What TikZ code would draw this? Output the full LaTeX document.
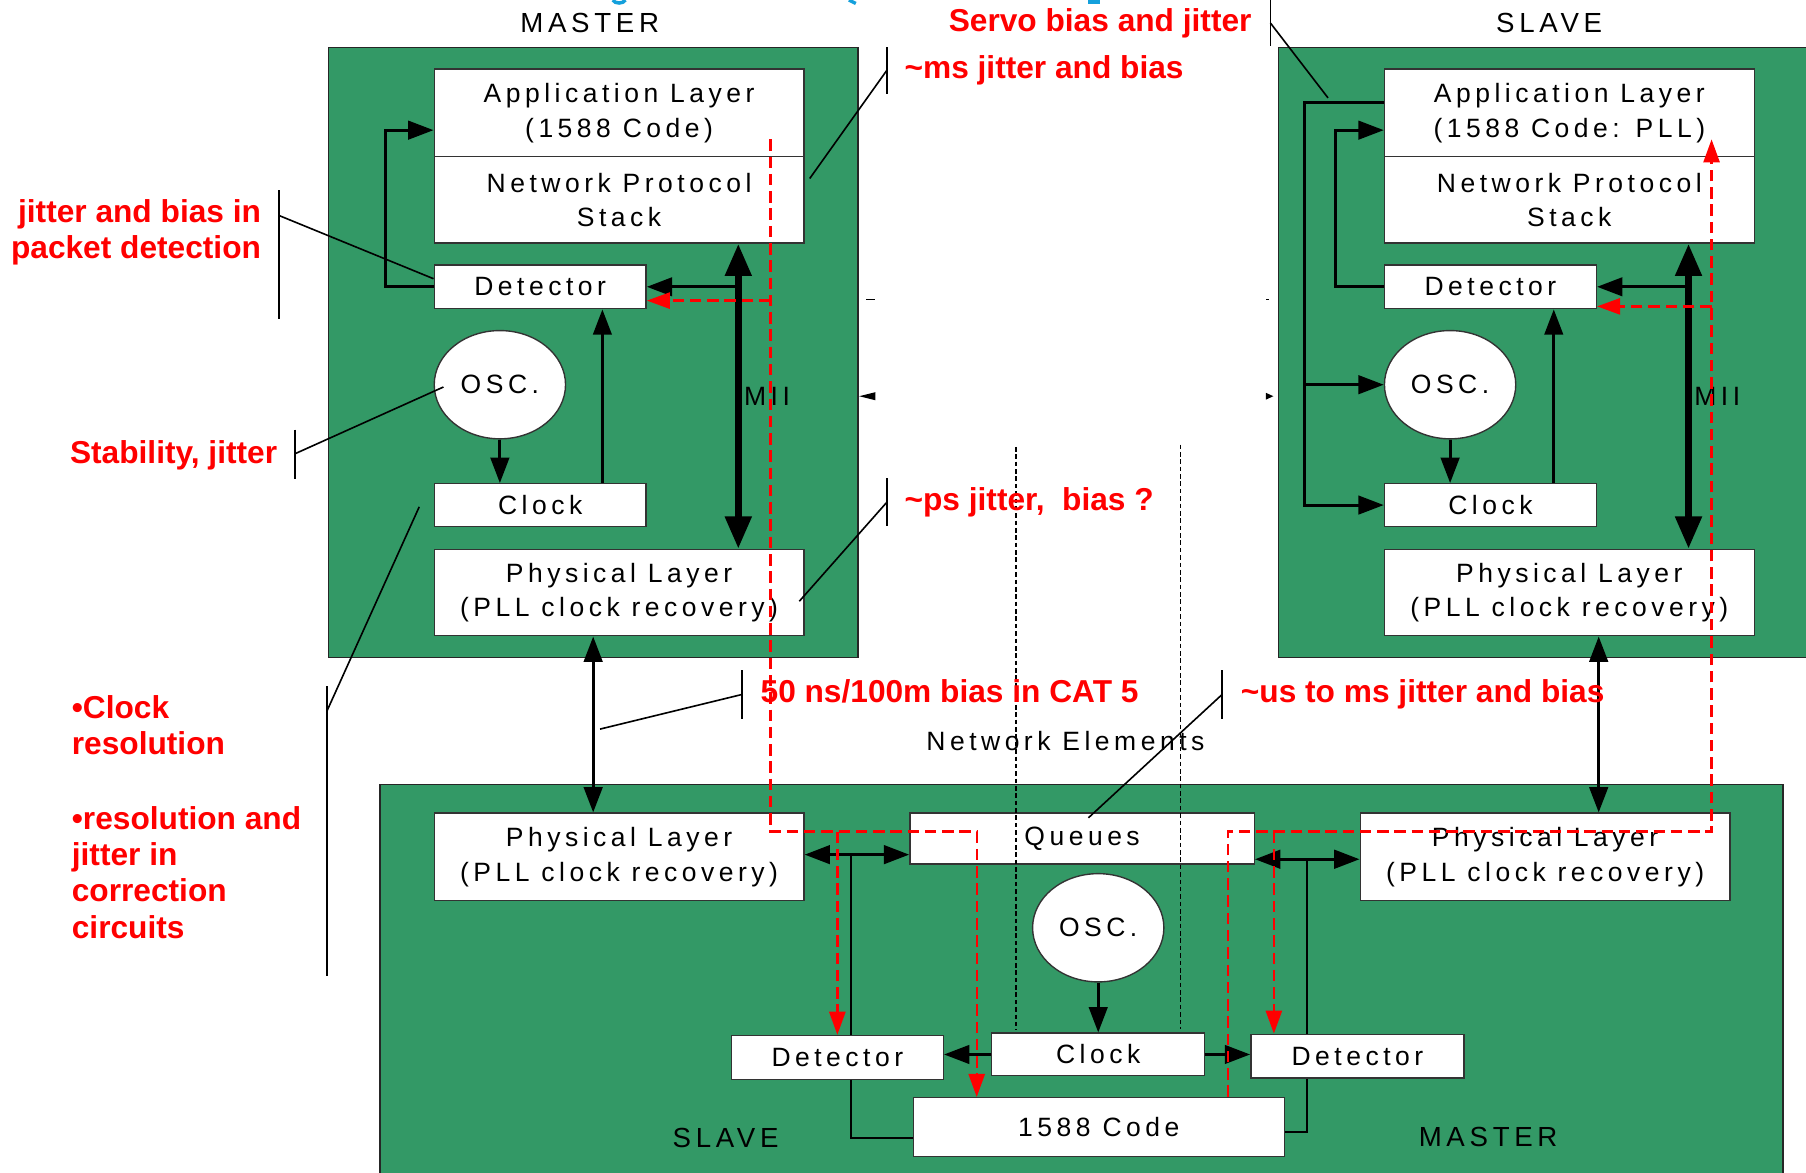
\documentclass[tikz,border=0pt]{standalone}
\usepackage{fontspec}
\setmainfont{Liberation Sans}
\newfontfamily\lblfont[LetterSpace=17]{Liberation Sans}
\usetikzlibrary{arrows.meta,shapes.geometric,fit}
\definecolor{pcb}{RGB}{51,153,102}
\definecolor{notered}{RGB}{255,0,0}
\definecolor{titleblue}{RGB}{20,160,220}
\begin{document}
\begin{tikzpicture}[x=0.5pt,y=-0.5pt,
 board/.style={draw=black!85,line width=0.6pt,fill=pcb,inner sep=0pt},
 blk/.style={draw=black!80,line width=0.6pt,fill=white,inner sep=0pt,align=center,font=\lblfont\fontsize{11.5}{15}\selectfont},
 widebox/.style={blk,minimum width=160.5pt,minimum height=38pt},
 halfbox/.style={blk,minimum width=160.5pt,minimum height=37.5pt},
 smallbox/.style={blk,minimum width=92pt,minimum height=19pt},
 osc/.style={draw=black!80,line width=0.6pt,fill=white,ellipse,inner sep=0pt,minimum width=57pt,minimum height=47pt,font=\lblfont\fontsize{11.5}{15}\selectfont},
 lbl/.style={inner sep=0pt,font=\lblfont\fontsize{11.5}{15}\selectfont},
 ttl/.style={inner sep=0pt,font=\lblfont\fontsize{12}{15}\selectfont},
 note/.style={inner sep=0pt,text=notered,align=left,font=\bfseries\fontsize{13.75}{15.75}\selectfont},
 arr/.style={line width=1.3pt,-{Triangle[length=11pt,width=8pt]}},
 dblarr/.style={line width=1.4pt,{Triangle[length=11pt,width=8pt]}-{Triangle[length=11pt,width=8pt]}},
 mii/.style={line width=3pt,{Triangle[length=14pt,width=11pt]}-{Triangle[length=14pt,width=11pt]}},
 wire/.style={line width=1pt},
 callout/.style={line width=0.7pt},
 rdash/.style={draw=notered,line width=1pt,dash pattern=on 5pt off 2.5pt},
 rarr/.style={rdash,-{Triangle[length=10pt,width=7pt]}},
 netline/.style={line width=0.6pt,dash pattern=on 2pt off 1.2pt},
]
\useasboundingbox (0,0) rectangle (1568,1017.6);
\fill[white] (0,0) rectangle (1568,1017.6);

% title fragments at the top edge
\draw[titleblue,line width=1.5pt] (532,0) .. controls (534,3.5) and (541,3.5) .. (543,0);
\draw[titleblue,line width=1.5pt] (737,0) -- (743,3);
\draw[titleblue,line width=1.8pt] (945,2) -- (955,2);

% boards
\node[board,fit={(285,41)(745,571)}] (mb) {};
\node[board,fit={(1110,41)(1580,571)}] (sb) {};
\node[board,fit={(330,681)(1548,1030)}] (bb) {};

% titles
\node[ttl] (tM) at (512,20) {MASTER};
\node[ttl] (tS) at (1345,20) {SLAVE};
\node[lbl] (tNE) at (925,643) {Network Elements};
\node[ttl] (tbS) at (630,988) {SLAVE};
\node[ttl] (tbM) at (1292,987) {MASTER};

% master stack
\node[widebox] (appM) at (537.5,98) {Application Layer\\(1588 Code)};
\node[halfbox] (npsM) at (537.5,173.5) {Network Protocol\\Stack};
\node[smallbox] (detM) at (469,249) {Detector};
\node[osc] (oscM) at (434,334) {OSC.};
\node[smallbox,minimum height=18.5pt] (clkM) at (469,438.5) {Clock};
\node[halfbox] (phyM) at (537.5,514.5) {Physical Layer\\(PLL clock recovery)};
\node[lbl] (miiM) at (666,344) {MII};

% slave stack
\node[widebox] (appS) at (1362.5,98) {Application Layer\\(1588 Code: PLL)};
\node[halfbox] (npsS) at (1362.5,173.5) {Network Protocol\\Stack};
\node[smallbox] (detS) at (1294,249) {Detector};
\node[osc] (oscS) at (1259,334) {OSC.};
\node[smallbox,minimum height=18.5pt] (clkS) at (1294,438.5) {Clock};
\node[halfbox] (phyS) at (1362.5,514.5) {Physical Layer\\(PLL clock recovery)};
\node[lbl] (miiS) at (1491,344) {MII};

% bottom (network element)
\node[widebox] (phyB1) at (537.5,744) {Physical Layer\\(PLL clock recovery)};
\node[blk,minimum width=149.5pt,minimum height=22pt] (que) at (939.5,728) {Queues};
\node[osc] (oscB) at (953.5,805.5) {OSC.};
\node[blk,minimum width=92.5pt,minimum height=18.5pt] (clkB) at (953.5,915.5) {Clock};
\node[smallbox] (detB1) at (727,918) {Detector};
\node[smallbox,minimum width=92.5pt] (detB2) at (1178.5,917) {Detector};
\node[blk,minimum width=161pt,minimum height=25.5pt] (code) at (954,978.5) {1588 Code};
\node[widebox] (phyB2) at (1341.5,744) {Physical Layer\\(PLL clock recovery)};

% network element boundaries
\draw[netline] (882,388) -- (882,894);
\draw[netline] (1025,386) -- (1025,893);

% master connectors
\draw[arr] (detM.west) -- ++(-42,0) |- ([yshift=-7.5pt]appM.west);
\draw[arr] (oscM.south) -- (oscM.south |- clkM.north);
\draw[arr] ([xshift=27pt]clkM.north) -- ([xshift=27pt]detM.south);
\coordinate (mbus) at ([xshift=51.75pt]npsM.south);
\draw[mii] (mbus) -- (mbus |- phyM.north);
\draw[arr] (mbus |- detM.east) -- (detM.east);

% slave connectors
\draw[arr] ([yshift=4.5pt]appS.west) -- ++(-69,0) coordinate (sbus) |- (clkS.west);
\draw[arr] (sbus |- oscS.west) -- (oscS.west);
\draw[arr] (detS.west) -- ++(-42,0) |- ([yshift=-7.5pt]appS.west);
\draw[arr] (oscS.south) -- (oscS.south |- clkS.north);
\draw[arr] ([xshift=27.5pt]clkS.north) -- ([xshift=27.5pt]detS.south);
\coordinate (smii) at ([xshift=51.75pt]npsS.south);
\draw[mii] (smii) -- (smii |- phyS.north);
\draw[arr] (smii |- detS.east) -- (detS.east);

% links between stacks and network element
\draw[dblarr] ([xshift=-11.25pt]phyM.south) -- ([xshift=-11.25pt]phyB1.north);
\coordinate (sdrop) at ([xshift=12.75pt]phyS.south);
\draw[dblarr] (sdrop) -- (sdrop |- phyB2.north);

% network element internals
\coordinate (qL) at (739,742);
\draw[dblarr] (qL -| phyB1.east) -- (qL -| que.west);
\draw[wire] (qL) -- (qL |- detB1.north);
\draw[wire] (qL |- detB1.south) |- ([yshift=-4.75pt]code.west);
\coordinate (qR) at (1135,746);
\draw[dblarr] (qR -| que.east) -- (qR -| phyB2.west);
\draw[wire] (qR) -- (qR |- detB2.north);
\draw[wire] (qR |- detB2.south) |- ([yshift=-2.25pt]code.east);
\draw[arr] (oscB.south) -- (oscB.south |- clkB.north);
\draw[arr] (clkB.west) -- (clkB.west -| detB1.east);
\draw[arr] (clkB.east) -- (clkB.east -| detB2.west);

% stray marks
\draw[line width=0.5pt] (752,260) -- (760,260);
\fill (746,344) -- (760,340.5) -- (760,347.5) -- cycle;
\draw[line width=0.6pt] (1099.5,260) -- (1101.5,260);
\fill (1105.5,344) -- (1099,341) -- (1099,347) -- cycle;

% red timing paths
\coordinate (rMtop) at (669,121);
\coordinate (rL) at (669,722);
\coordinate (rMdet) at (669,261);
\coordinate (rB1) at (727,722);
\draw[rarr] (rMtop) -- (rL) -| ([xshift=-53pt]code.north);
\draw[rarr] (rMdet) -- (rMdet -| detM.east);
\draw[rarr] (rB1) -- (rB1 |- detB1.north);
\coordinate (rBr) at (1066,722);
\coordinate (rR) at (1486,722);
\coordinate (rStop) at (1486,121);
\coordinate (rSdet) at (1486,266);
\coordinate (rB2) at (1106,722);
\draw[rarr] ([xshift=56pt]code.north) -- (rBr) -- (rR) -- (rStop);
\draw[rarr] (rSdet) -- (rSdet -| detS.east);
\draw[rarr] (rB2) -- (rB2 |- detB2.north);

% annotations
\node[note,anchor=east] (nServo) at (1087,20) {Servo bias and jitter};
\draw[callout] (1103,0) -- (1103,40);
\draw[callout] (1103,20) -- (1153,85);

\node[note,anchor=west] (nMs) at (785,61) {\char`\~ms jitter and bias};
\draw[callout] (770,41) -- (770,82);
\draw[callout] (770,61) -- (703,155);

\node[note,anchor=east,align=right] (nPkt) at (227,202) {jitter and bias in\\packet detection};
\draw[callout] (242,165) -- (242,277);
\draw[callout] (242,187) -- (detM.west |- 0,242);

\node[note,anchor=east] (nStab) at (241,395) {Stability, jitter};
\draw[callout] (256,373) -- (256,416);
\draw[callout] (256,394) -- (385,336);

\node[note,anchor=west] (nPs) at (785,436) {\char`\~ps jitter, \ bias ?};
\draw[callout] (770,415) -- (770,457);
\draw[callout] (770,436) -- (694,522);

\node[note,anchor=west] (nCat) at (660,600) {50 ns/100m bias in CAT 5};
\draw[callout] (644,582) -- (644,624);
\draw[callout] (644,603) -- (521,633);

\node[note,anchor=west] (nUs) at (1077,603) {\char`\~us to ms jitter and bias};
\draw[callout] (1061,582) -- (1061,624);
\draw[callout] (1061,603) -- (945,710);

\node[note,anchor=west] (nClk) at (62,629.5) {•Clock\\resolution};
\node[note,anchor=west] (nRes) at (62,757.5) {•resolution and\\jitter in\\correction\\circuits};
\draw[callout] (284,596) -- (284,847);
\draw[callout] (284,617) -- (364,440);
\end{tikzpicture}
\end{document}
